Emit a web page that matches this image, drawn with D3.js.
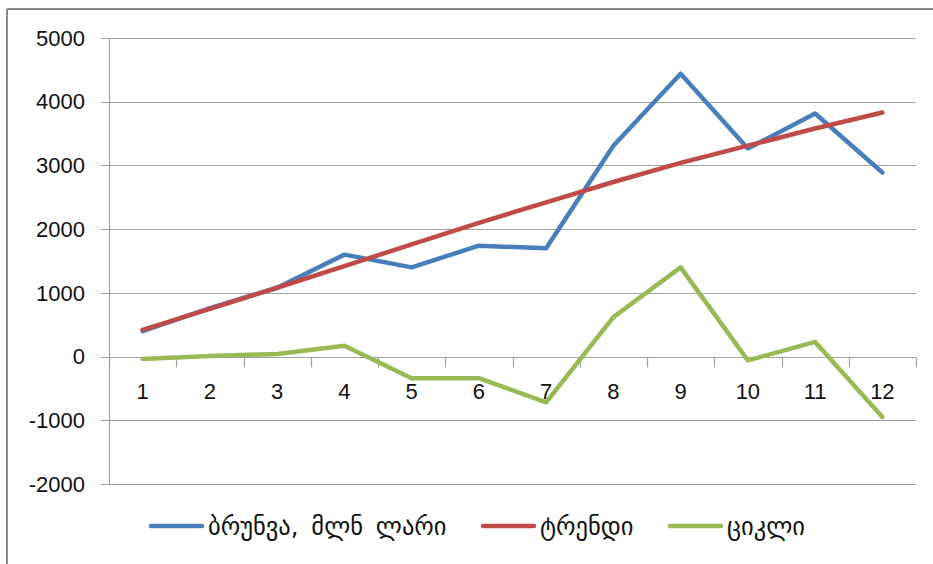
<!DOCTYPE html>
<html>
<head>
<meta charset="utf-8">
<script src="https://cdn.jsdelivr.net/npm/d3@7"></script>
<style>
  html, body { margin: 0; padding: 0; background: #fff; }
  svg { display: block; }
</style>
</head>
<body>
<svg id="chart" width="933" height="564"></svg>
<script>
const categories = ["1","2","3","4","5","6","7","8","9","10","11","12"];
const revenue = [400, 760, 1080, 1600, 1400, 1740, 1700, 3310, 4440, 3265, 3815, 2890];
const trend   = [420, 750, 1080, 1420, 1760, 2100, 2420, 2740, 3040, 3310, 3580, 3830];
const cycle   = [-40, 10, 40, 170, -340, -340, -720, 620, 1400, -60, 230, -950];
const yTicks  = [-2000, -1000, 0, 1000, 2000, 3000, 4000, 5000];
const seriesNames = ["ბრუნვა, მლნ ლარი", "ტრენდი", "ციკლი"];
const seriesColors = ["#4a7ebb", "#be4b48", "#98b954"];
const seriesData = [revenue, trend, cycle];

(function () {
const svg = d3.select("#chart");
const plotLeft = 109, plotRight = 916, plotTop = 38, plotBottom = 484;

// outer frame (top and left edges visible)
svg.append("line").attr("x1", 7).attr("x2", 933).attr("y1", 9).attr("y2", 9)
  .attr("stroke", "#8a8a8a").attr("stroke-width", 2);
svg.append("line").attr("x1", 7).attr("x2", 7).attr("y1", 9).attr("y2", 564)
  .attr("stroke", "#8a8a8a").attr("stroke-width", 2);

const x = d3.scaleBand().domain(categories).range([plotLeft, plotRight]);
const y = d3.scaleLinear().domain([-2000, 5000]).range([plotBottom, plotTop]);

// gridlines
svg.append("g").selectAll("line").data(yTicks).join("line")
  .attr("x1", plotLeft - 8).attr("x2", plotRight)
  .attr("y1", d => Math.round(y(d)) + 0.5).attr("y2", d => Math.round(y(d)) + 0.5)
  .attr("stroke", "#a0a0a0").attr("stroke-width", 1.2);

// y axis line
svg.append("line").attr("x1", plotLeft + 0.5).attr("x2", plotLeft + 0.5)
  .attr("y1", y(5000)).attr("y2", y(-2000))
  .attr("stroke", "#a0a0a0").attr("stroke-width", 1.2);

// y labels
svg.append("g").selectAll("text").data(yTicks).join("text")
  .attr("x", 85).attr("y", d => y(d))
  .attr("dy", "0.35em").attr("text-anchor", "end")
  .attr("font-family", "Liberation Sans, Arial, sans-serif")
  .attr("font-size", 22).attr("fill", "#111")
  .text(d => d);

// x axis at zero with tick marks at band boundaries
const y0 = Math.round(y(0)) + 0.5;
const bounds = categories.map(c => x(c)).concat([plotRight]);
svg.append("g").selectAll("line").data(bounds).join("line")
  .attr("x1", d => Math.round(d) + 0.5).attr("x2", d => Math.round(d) + 0.5)
  .attr("y1", y0).attr("y2", y0 + 10)
  .attr("stroke", "#a0a0a0").attr("stroke-width", 1.2);

svg.append("g").selectAll("text").data(categories).join("text")
  .attr("x", d => x(d) + x.bandwidth() / 2).attr("y", y0 + 41)
  .attr("text-anchor", "middle")
  .attr("font-family", "Liberation Sans, Arial, sans-serif")
  .attr("font-size", 22).attr("fill", "#111")
  .text(d => d);

// lines
const line = d3.line()
  .x((d, i) => x(categories[i]) + x.bandwidth() / 2)
  .y(d => y(d));

seriesData.forEach((s, k) => {
  svg.append("path").datum(s)
    .attr("d", line)
    .attr("fill", "none")
    .attr("stroke", seriesColors[k])
    .attr("stroke-width", 4.5)
    .attr("stroke-linejoin", "round")
    .attr("stroke-linecap", "round");
});

// legend
const legendX = [151, 483, 670];
const legendY = 528;
const lg = svg.append("g");
seriesNames.forEach((name, k) => {
  lg.append("line")
    .attr("x1", legendX[k]).attr("x2", legendX[k] + 51)
    .attr("y1", legendY - 2).attr("y2", legendY - 2)
    .attr("stroke", seriesColors[k]).attr("stroke-width", 4.5)
    .attr("stroke-linecap", "round");
  lg.append("text")
    .attr("x", legendX[k] + 57).attr("y", legendY)
    .attr("dy", "0.3em")
    .attr("font-family", "DejaVu Sans, sans-serif")
    .attr("font-size", 24.5).attr("fill", "#111")
    .attr("word-spacing", 5)
    .text(name);
});
})();
</script>
</body>
</html>
